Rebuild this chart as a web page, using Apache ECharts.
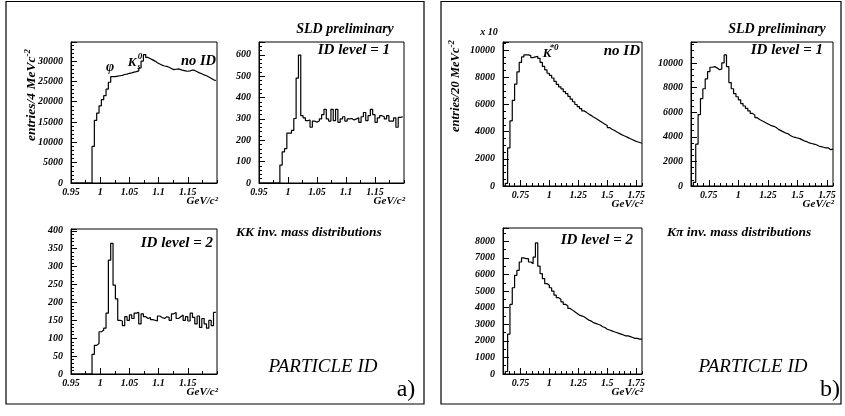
<!DOCTYPE html>
<html><head><meta charset="utf-8">
<script src="https://cdn.jsdelivr.net/npm/echarts@6/dist/echarts.min.js"></script>
<style>html,body{margin:0;padding:0;background:#fff}#c{width:845px;height:416px}</style>
</head><body><div id="c"></div>
<script>
// ---- KK invariant mass (panel a), 4 MeV bins starting at 0.95 GeV ----
const kkBinStart = 0.95;
const kkBinWidth = 0.004;
const kkNoId = [0,0,0,0,0,0,0,0,0,
  9000,15400,17200,19000,20500,21500,23100,24800,
  26200,26200,26300,26400,26500,26700,26800,27000,27100,27300,27400,27600,
  28300,30000,31600,30900,30600,30300,30000,29600,29300,29000,
  28800,28700,28500,28200,27900,28000,28100,27900,27700,27600,
  27500,27600,27800,27700,27400,27100,26900,26600,26400,26100,
  25800,25400,25200];
const kkLevel1 = [0,0,0,0,0,0,0,0,0,
  84,146,161,233,233,246,302,491,599,
  315,305,292,295,261,290,285,290,300,320,
  345,300,290,345,292,345,284,300,310,290,
  300,302,295,300,305,284,310,330,292,315,
  345,320,284,305,315,310,300,315,290,290,
  305,261,307,310];
const kkLevel2 = [0,0,0,0,0,0,0,0,0,
  55,80,85,118,122,128,170,318,365,248,210,150,148,135,
  160,150,165,155,170,172,140,168,160,155,
  158,152,150,148,162,158,155,160,158,150,
  168,172,155,160,165,150,160,148,170,158,
  140,162,130,155,140,128,150,135,172];
const kkTickLabels = [0.95, 1, 1.05, 1.1, 1.15];

// ---- K pi invariant mass (panel b), 20 MeV bins starting at 0.6 GeV (entries x 10) ----
const kpBinStart = 0.6;
const kpBinWidth = 0.02;
const kpNoId = [0,200,2800,4800,6300,7500,8400,9100,9500,9650,9650,9600,9450,9500,9550,9400,
  9100,8800,8550,8300,8150,7950,7700,7480,7300,7150,
  6950,6800,6600,6400,6200,6000,5850,5700,5530,5420,
  5300,5200,5080,4980,4880,4770,4650,4550,4450,4300,
  4180,4100,4000,3900,3800,3720,3640,3560,3480,3400,
  3320,3260,3200,3150];
const kpLevel1 = [0,300,3400,5800,7100,7900,8700,9300,9650,9700,9600,9450,9500,10000,10650,9700,
  8400,7900,7500,7250,7000,6700,6500,6300,6100,5900,
  5750,5550,5400,5300,5200,5100,5000,4900,4850,4750,
  4600,4500,4400,4300,4250,4100,4000,3950,3900,3850,
  3750,3650,3600,3500,3450,3400,3350,3250,3200,3150,
  3100,3100,2950,3000];
const kpLevel2 = [0,150,2400,4200,5200,5950,6250,6750,7000,6950,6950,6750,6650,7050,7900,6500,
  6050,5750,5450,5350,5200,5000,4750,4600,4500,4350,
  4200,4100,3950,3850,3750,3650,3550,3500,3450,3350,
  3250,3200,3100,3050,3000,2950,2850,2800,2700,2650,
  2600,2550,2500,2450,2400,2350,2300,2300,2250,2200,
  2150,2150,2100,2100];
const kpTickLabels = [0.75, 1, 1.25, 1.5, 1.75];

// ---- layout ----
const FF = 'Liberation Serif';
const panels = [
  {grid:{left:71, top:42, width:146, height:141}, data:kkNoId, start:kkBinStart, bw:kkBinWidth, xmin:0.95, xmax:1.2, xlabels:kkTickLabels, minorStep:0.025, ymax:34700, yint:5000, ysplit:5},
  {grid:{left:259, top:42, width:145, height:141}, data:kkLevel1, start:kkBinStart, bw:kkBinWidth, xmin:0.95, xmax:1.2, xlabels:kkTickLabels, minorStep:0.025, ymax:660, yint:100, ysplit:5},
  {grid:{left:71, top:229, width:146, height:145}, data:kkLevel2, start:kkBinStart, bw:kkBinWidth, xmin:0.95, xmax:1.2, xlabels:kkTickLabels, minorStep:0.025, ymax:405, yint:50, ysplit:5},
  {grid:{left:503, top:42, width:139, height:144}, data:kpNoId, start:kpBinStart, bw:kpBinWidth, xmin:0.6, xmax:1.8, xlabels:kpTickLabels, minorStep:0.05, ymax:10600, yint:2000, ysplit:4},
  {grid:{left:691, top:42, width:142, height:144}, data:kpLevel1, start:kpBinStart, bw:kpBinWidth, xmin:0.6, xmax:1.8, xlabels:kpTickLabels, minorStep:0.05, ymax:11700, yint:2000, ysplit:4},
  {grid:{left:503, top:228, width:139, height:146}, data:kpLevel2, start:kpBinStart, bw:kpBinWidth, xmin:0.6, xmax:1.8, xlabels:kpTickLabels, minorStep:0.05, ymax:8800, yint:1000, ysplit:2}
];

function outline(start, bw, vals) {
  const pts = vals.map((v, i) => [+(start + i * bw).toFixed(4), v]);
  pts.push([+(start + vals.length * bw).toFixed(4), vals[vals.length - 1]]);
  return pts;
}

const labelStyle = {color:'#000', fontFamily:FF, fontStyle:'italic', fontWeight:'bold', fontSize:10};
const black = {color:'#000', width:1};

function txt(x, y, text, size, opts) {
  const o = opts || {};
  return {
    type:'text', x:x, y:y, rotation:o.rot || 0, silent:true,
    style:{
      text:text, fill:'#000',
      font:(o.style || 'italic') + ' ' + (o.weight || 'bold') + ' ' + size + 'px "' + (o.family || FF) + '"',
      align:o.align || 'center', textAlign:o.align || 'center',
      verticalAlign:'middle', textVerticalAlign:'middle',
      rich:o.rich
    }
  };
}

const grid = [], xAxis = [], yAxis = [], series = [], axisNames = [];
panels.forEach((p, g) => {
  grid.push(Object.assign({show:true, borderColor:'#000', borderWidth:1, backgroundColor:'transparent'}, p.grid));
  xAxis.push({
    type:'value', gridIndex:g, min:p.xmin, max:p.xmax, position:'bottom',
    axisLine:{show:true, onZero:false, lineStyle:black},
    axisTick:{show:true, inside:true, length:6, customValues:p.xlabels, lineStyle:black},
    axisLabel:Object.assign({show:true, margin:4, customValues:p.xlabels, formatter:v => String(v)}, labelStyle),
    splitLine:{show:false}
  });
  xAxis.push({
    type:'value', gridIndex:g, min:p.xmin, max:p.xmax, interval:p.minorStep, position:'bottom',
    axisLine:{show:false}, axisTick:{show:true, inside:true, length:3, lineStyle:black},
    axisLabel:{show:false}, splitLine:{show:false}
  });
  yAxis.push({
    type:'value', gridIndex:g, min:0, max:p.ymax, interval:p.yint,
    axisLine:{show:true, onZero:false, lineStyle:black},
    axisTick:{show:true, inside:true, length:6, lineStyle:black},
    minorTick:{show:true, splitNumber:p.ysplit, length:3, lineStyle:black},
    axisLabel:Object.assign({show:true, margin:8, showMaxLabel:false, formatter:v => String(v)}, labelStyle),
    splitLine:{show:false}
  });
  series.push({
    type:'line', xAxisIndex:2 * g, yAxisIndex:g, step:'end', showSymbol:false, symbol:'none',
    data:outline(p.start, p.bw, p.data), lineStyle:{color:'#000', width:1.2}, clip:true, silent:true
  });
  axisNames.push(txt(p.grid.left + p.grid.width + 1, p.grid.top + p.grid.height + 18, 'GeV/c²', 11, {align:'right'}));
});

const supRich = {sup:{fontFamily:FF, fontStyle:'italic', fontWeight:'bold', fontSize:9, verticalAlign:'top', lineHeight:18}};

const graphic = [
  {type:'rect', shape:{x:6, y:1.5, width:418, height:402.5}, style:{fill:'none', stroke:'#000', lineWidth:1.2}, silent:true},
  {type:'rect', shape:{x:441, y:1.5, width:400, height:402.5}, style:{fill:'none', stroke:'#000', lineWidth:1.2}, silent:true},
  txt(345, 29, 'SLD preliminary', 14),
  txt(777, 29, 'SLD preliminary', 14),
  txt(216, 61, 'no ID', 14.5, {align:'right'}),
  txt(390, 50, 'ID level = 1', 15, {align:'right'}),
  txt(213, 243, 'ID level = 2', 15, {align:'right'}),
  txt(640, 51, 'no ID', 15, {align:'right'}),
  txt(823, 50, 'ID level = 1', 15, {align:'right'}),
  txt(633, 240, 'ID level = 2', 15, {align:'right'}),
  txt(236, 233, 'KK inv. mass distributions', 13.5, {align:'left'}),
  txt(667, 233, 'Kπ inv. mass distributions', 13.5, {align:'left'}),
  txt(323, 367, 'PARTICLE ID', 19, {weight:'normal'}),
  txt(753, 367, 'PARTICLE ID', 19, {weight:'normal'}),
  txt(406, 390, 'a)', 24, {style:'normal', weight:'normal'}),
  txt(830, 390, 'b)', 24, {style:'normal', weight:'normal'}),
  txt(110, 67, 'φ', 14),
  txt(132, 63, 'K', 13),
  txt(139, 67, 's', 8),
  txt(140, 57, '0', 9),
  txt(547, 54, 'K', 13),
  txt(554, 48, '*0', 9),
  txt(489, 32, 'x 10', 10),
  txt(32, 95, 'entries/4 MeVc{sup|-2}', 13.5, {rot:Math.PI / 2, rich:supRich}),
  txt(456, 86, 'entries/20 MeVc{sup|-2}', 12.5, {rot:Math.PI / 2, rich:supRich})
].concat(axisNames);

const chart = echarts.init(document.getElementById('c'), null, {renderer:'canvas'});
chart.setOption({animation:false, backgroundColor:'#fff', grid, xAxis, yAxis, series, graphic});
</script>
</body></html>
